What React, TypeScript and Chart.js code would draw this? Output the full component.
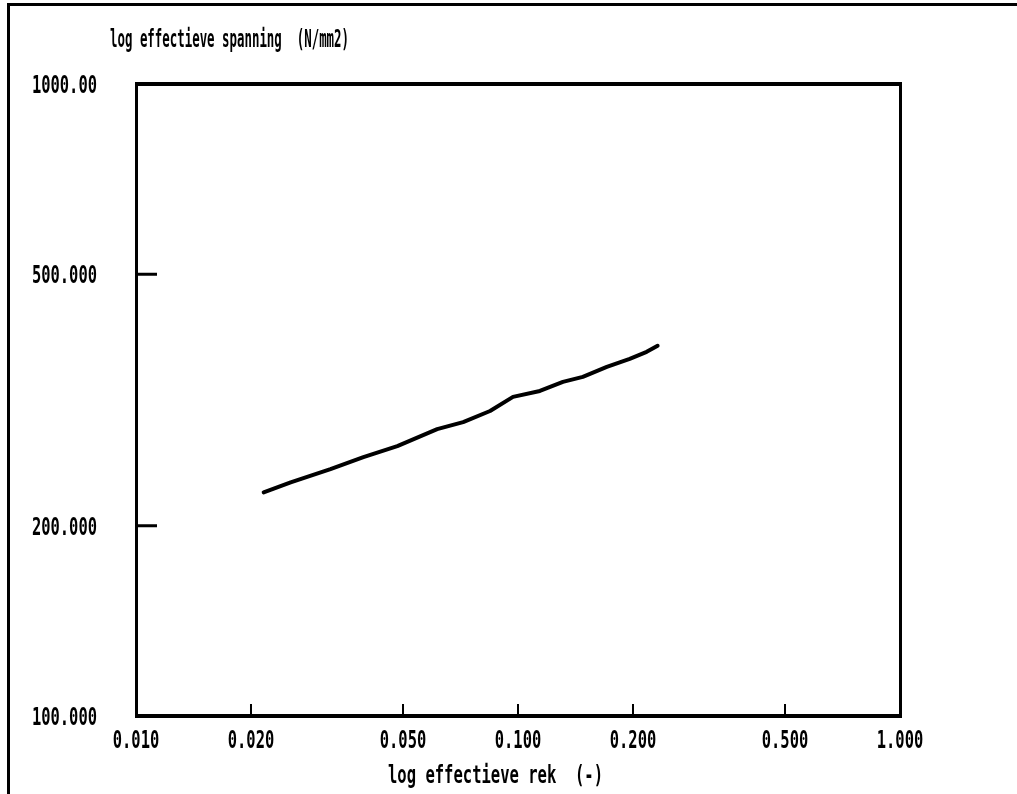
import React, { useEffect, useRef } from "react";
import { Chart, registerables } from "chart.js";

Chart.register(...registerables);

// ---- data ----
const strainValues = [0.02159, 0.0254, 0.03229, 0.03938, 0.04831, 0.06144, 0.07185, 0.0845, 0.09703, 0.1141, 0.1311, 0.1478, 0.1708, 0.1961, 0.2172, 0.232];
const stressValues = [225.9, 234.3, 245.8, 256.8, 267.3, 284.4, 291.8, 303.8, 319.8, 326.8, 337.8, 344.0, 356.8, 367.4, 376.9, 385.3];
const xTickValues = [0.01, 0.02, 0.05, 0.1, 0.2, 0.5, 1.0];
const xTickLabels = ["0.010", "0.020", "0.050", "0.100", "0.200", "0.500", "1.000"];
const yTickValues = [100, 200, 500, 1000];
const yTickLabels = ["100.000", "200.000", "500.000", "1000.00"];
const yAxisTitle = "log effectieve spanning  (N/mm2)";
const xAxisTitle = "log effectieve rek  (-)";

const FONT_FAMILY = '"DejaVu Sans Mono", monospace';
const CHAR_W = 9.3; // advance per character of the narrow plotter font

const framePlugin = {
  id: "frame",
  afterDraw(chart: any) {
    const ctx = chart.ctx;
    const { left, right, top, bottom } = chart.chartArea;
    const xs = chart.scales.x;
    const ys = chart.scales.y;
    ctx.save();
    ctx.fillStyle = "#000";
    // outer page frame
    ctx.fillRect(7, 3, 3, 791);
    ctx.fillRect(7, 3, 1010, 3);
    // plot box
    ctx.fillRect(left - 1, top - 2, right - left + 3, 4);
    ctx.fillRect(left - 1, bottom - 2, right - left + 3, 4);
    ctx.fillRect(left - 1, top - 2, 3, bottom - top + 4);
    ctx.fillRect(right - 1, top - 2, 3, bottom - top + 4);
    // inner tick marks
    yTickValues.forEach((v) => {
      if (v === ys.min || v === ys.max) return;
      const py = ys.getPixelForValue(v);
      ctx.fillRect(left, py - 1.5, 21, 3);
    });
    xTickValues.forEach((v) => {
      if (v === xs.min || v === xs.max) return;
      const px = xs.getPixelForValue(v);
      ctx.fillRect(px - 1, bottom - 12, 2, 12);
    });

    ctx.font = `bold 24px ${FONT_FAMILY}`;
    ctx.textBaseline = "middle";
    ctx.textAlign = "left";
    const drawScaled = (text: string, x0: number, yMid: number, sx: number) => {
      ctx.save();
      ctx.translate(x0, yMid);
      ctx.scale(sx, 1);
      ctx.fillText(text, 0, 0);
      ctx.restore();
    };
    const charScale = CHAR_W / ctx.measureText("0").width;
    // tick labels, placed by the scales
    yTickValues.forEach((v, i) => {
      const py = ys.getPixelForValue(v);
      const t = yTickLabels[i];
      const w = ctx.measureText(t).width * charScale;
      drawScaled(t, left - 39 - w, py + 3, charScale);
    });
    xTickValues.forEach((v, i) => {
      const px = xs.getPixelForValue(v);
      const t = xTickLabels[i];
      const w = ctx.measureText(t).width * charScale;
      drawScaled(t, px - w / 2, bottom + 26, charScale);
    });
    // titles
    const drawFitted = (text: string, x0: number, x1: number, yMid: number) => {
      ctx.font = `bold 25px ${FONT_FAMILY}`;
      const w = ctx.measureText(text).width;
      drawScaled(text, x0, yMid, (x1 - x0) / w);
    };
    drawFitted(yAxisTitle, 110, 349, 40);
    drawFitted(xAxisTitle, 388, 603, 776);
    ctx.restore();
  },
};

export default function App() {
  const canvasRef = useRef<HTMLCanvasElement | null>(null);

  useEffect(() => {
    document.body.style.margin = "0";
    document.body.style.background = "#fff";
    const canvas = canvasRef.current;
    if (!canvas) return;
    const chart = new Chart(canvas, {
      type: "line",
      data: {
        datasets: [
          {
            data: strainValues.map((x, i) => ({ x, y: stressValues[i] })),
            borderColor: "#000",
            borderWidth: 4,
            pointRadius: 0,
            tension: 0,
            borderJoinStyle: "round",
            borderCapStyle: "round",
          },
        ],
      },
      options: {
        responsive: false,
        animation: false,
        layout: { padding: { left: 0, top: 84, right: 117, bottom: 0 } },
        plugins: { legend: { display: false }, tooltip: { enabled: false }, title: { display: false } },
        scales: {
          x: {
            type: "logarithmic",
            min: 0.01,
            max: 1,
            afterBuildTicks: (s: any) => {
              s.ticks = xTickValues.map((v) => ({ value: v }));
            },
            afterFit: (s: any) => {
              s.height = 78;
            },
            grid: { display: false, drawTicks: false },
            border: { display: false },
            ticks: { display: false },
          },
          y: {
            type: "logarithmic",
            min: 100,
            max: 1000,
            afterBuildTicks: (s: any) => {
              s.ticks = yTickValues.map((v) => ({ value: v }));
            },
            afterFit: (s: any) => {
              s.width = 136;
            },
            grid: { display: false, drawTicks: false },
            border: { display: false },
            ticks: { display: false },
          },
        },
      },
      plugins: [framePlugin],
    });
    return () => chart.destroy();
  }, []);

  return <canvas ref={canvasRef} width={1017} height={794} style={{ display: "block" }} />;
}
